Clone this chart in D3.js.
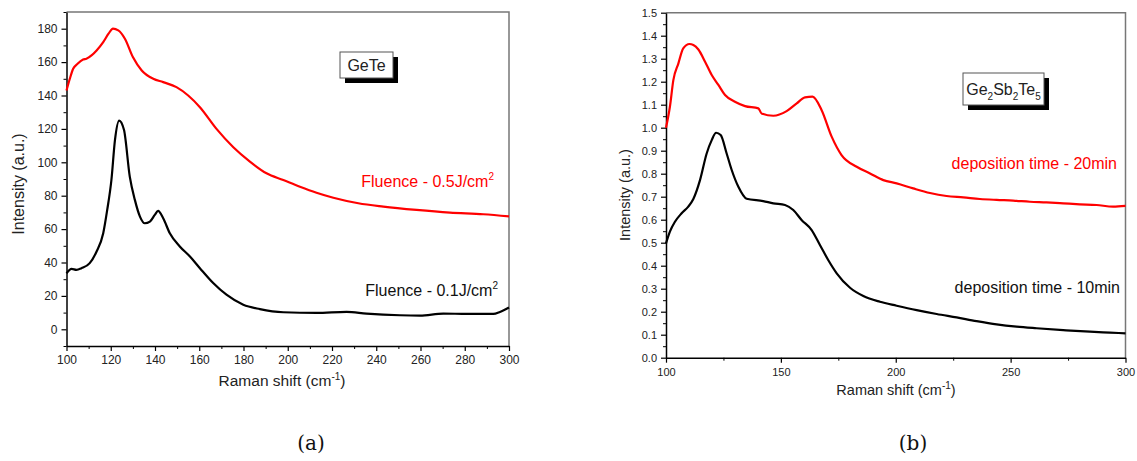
<!DOCTYPE html>
<html>
<head>
<meta charset="utf-8">
<script src="https://cdn.jsdelivr.net/npm/d3@7"></script>
<style>
  body { margin: 0; background: #fff; }
  text { font-family: "Liberation Sans", Arial, sans-serif; fill: #222; }
</style>
</head>
<body>
<script>
// Panel (a): GeTe, Raman spectra [shift cm-1, intensity]
const geteFluence05 = [
  [100, 143], [101.5, 150], [103, 156], [105, 159], [107.5, 161.5], [109, 162], [111.3, 164],
  [113.6, 167], [116.6, 172], [119, 177], [121, 180], [123.4, 179], [126.4, 174], [130, 163],
  [134, 155], [139.2, 150], [143.7, 148], [149.7, 145], [155, 140], [160.3, 133], [167.8, 120],
  [175.4, 109], [182.9, 100.4], [190.4, 93.4], [198, 89.4], [205.5, 85.4], [213, 81.8],
  [220.6, 78.8], [231.9, 75.5], [243.2, 73.5], [258.2, 71.5], [273.3, 69.9], [288.4, 68.9], [300, 67.6]
];
const geteFluence01 = [
  [100, 33.5], [102.3, 36.2], [104.5, 35.6], [106.8, 36.6], [110.5, 39.6], [113.6, 46.6],
  [116.6, 57.5], [118.4, 71.5], [120.3, 89.4], [121.9, 113.3], [123.8, 125], [126, 119.3],
  [128.6, 91.4], [130.9, 77.5], [133.2, 67.5], [135.4, 63.5], [137.7, 64.5], [139.9, 68.5],
  [141.4, 70.9], [143.7, 66.5], [146.7, 57.5], [151.2, 49.6], [155.8, 43.6], [160.3, 36.6],
  [166.3, 27.7], [172.3, 20.7], [179.9, 14.7], [187.4, 12.1], [198, 10.2], [213, 9.8],
  [226.6, 10.4], [235.6, 9.4], [250.7, 8.4], [259.8, 8.2], [270.3, 9.4], [280.9, 9.2],
  [292.9, 9.2], [295.9, 10.4], [300, 13.1]
];

// Panel (b): Ge2Sb2Te5
const gstTime20 = [
  [100, 1.0], [101.7, 1.091], [103.2, 1.207], [105.4, 1.28], [107.5, 1.345], [110.2, 1.364],
  [111.9, 1.36], [114.1, 1.34], [117, 1.287], [119.9, 1.229], [122.8, 1.186], [125.7, 1.142],
  [130, 1.113], [134.4, 1.094], [140.2, 1.084], [141.6, 1.062], [146.7, 1.052], [152.5, 1.072],
  [156.9, 1.106], [160.5, 1.132], [163.8, 1.135], [167.7, 1.077], [172.1, 0.961], [176.4, 0.881],
  [183, 0.83], [188.8, 0.801], [194.6, 0.772], [200.4, 0.758], [207.6, 0.736], [214.9, 0.716],
  [222.1, 0.703], [229.4, 0.697], [236.6, 0.69], [243.9, 0.686], [251.1, 0.683], [258.4, 0.678],
  [265.6, 0.675], [272.9, 0.671], [280.1, 0.667], [287.4, 0.664], [294.6, 0.657], [300, 0.66]
];
const gstTime10 = [
  [100, 0.497], [101.7, 0.548], [103.9, 0.591], [106.8, 0.628], [109.7, 0.657], [111.9, 0.69],
  [114.8, 0.772], [117.7, 0.888], [119.9, 0.946], [121.8, 0.978], [123.8, 0.968], [126.4, 0.888],
  [128.6, 0.816], [131.5, 0.743], [135.1, 0.691], [142.3, 0.681], [146.7, 0.671], [151.8, 0.664],
  [155.4, 0.642], [159, 0.599], [163.4, 0.555], [167, 0.49], [170.6, 0.425], [174.3, 0.367],
  [180.1, 0.304], [185.9, 0.268], [193.1, 0.243], [200.4, 0.226], [209.1, 0.207], [217.8, 0.19],
  [226.5, 0.175], [235.2, 0.159], [243.9, 0.145], [252.6, 0.135], [261.3, 0.128], [272.9, 0.12],
  [284.5, 0.113], [293.2, 0.109], [300, 0.106]
];

// tick values
const ticksAx = d3.range(100, 301, 20);
const ticksAxMinor = d3.range(110, 300, 20);
const ticksAy = d3.range(0, 181, 20);
const ticksAyMinor = d3.range(-10, 191, 20);
const ticksBx = [100, 150, 200, 250, 300];
const ticksBxMinor = [125, 175, 225, 275];
const ticksBy = d3.range(0, 16).map(i => i / 10);
const ticksByMinor = d3.range(0, 15).map(i => i / 10 + 0.05);

const svg = d3.select('body').append('svg')
  .attr('width', 1137)
  .attr('height', 461);

function panel(p) {
  const x = d3.scaleLinear().domain(p.xDomain).range([p.left, p.right]);
  const y = d3.scaleLinear().domain(p.yDomain).range([p.bottom, p.top]);
  const g = svg.append('g');

  // top/right frame
  g.append('path')
    .attr('d', `M${p.left},${p.top}H${p.right}V${p.bottom}`)
    .attr('fill', 'none')
    .attr('stroke', '#777')
    .attr('stroke-width', 1.5);

  // minor ticks
  g.append('g')
    .attr('transform', `translate(0,${p.bottom})`)
    .call(d3.axisBottom(x).tickValues(p.xMinor).tickSize(3).tickFormat(''))
    .call(a => a.select('.domain').remove());
  g.append('g')
    .attr('transform', `translate(${p.left},0)`)
    .call(d3.axisLeft(y).tickValues(p.yMinor).tickSize(3).tickFormat(''))
    .call(a => a.select('.domain').remove());

  // major axes
  const xa = g.append('g')
    .attr('transform', `translate(0,${p.bottom})`)
    .call(d3.axisBottom(x).tickValues(p.xTicks).tickSize(5).tickSizeOuter(0).tickPadding(p.xPad));
  const ya = g.append('g')
    .attr('transform', `translate(${p.left},0)`)
    .call(d3.axisLeft(y).tickValues(p.yTicks).tickSize(5).tickSizeOuter(0).tickPadding(4)
      .tickFormat(p.yFormat));
  [xa, ya].forEach(a => {
    a.select('.domain').attr('stroke-width', 1.5);
    a.selectAll('.tick line').attr('stroke-width', 1.2);
    a.attr('font-family', null).attr('font-size', null);
    a.selectAll('.tick text').style('font-size', p.tickFont + 'px');
  });

  // curves
  const line = d3.line().x(d => x(d[0])).y(d => y(d[1])).curve(d3.curveMonotoneX);
  p.series.forEach(s => {
    g.append('path')
      .datum(s.values)
      .attr('d', line)
      .attr('fill', 'none')
      .attr('stroke', s.color)
      .attr('stroke-width', 2.2)
      .attr('stroke-linejoin', 'round');
  });

  // axis titles
  const xt = g.append('text')
    .attr('x', p.xTitleX)
    .attr('y', p.xTitleY)
    .attr('text-anchor', 'middle')
    .style('font-size', p.titleFont + 'px')
    .text('Raman shift (cm');
  xt.append('tspan').attr('dy', -6).style('font-size', '10px').text('-1');
  xt.append('tspan').attr('dy', 6).text(')');

  g.append('text')
    .attr('transform', `translate(${p.yTitleX},${p.yTitleY}) rotate(-90)`)
    .attr('text-anchor', 'middle')
    .style('font-size', p.yTitleFont + 'px')
    .text('Intensity (a.u.)');

  // series labels
  p.labels.forEach(l => {
    const t = g.append('text')
      .attr('x', l.x)
      .attr('y', l.y)
      .attr('text-anchor', 'end')
      .style('font-size', '16px')
      .style('fill', l.color)
      .text(l.text);
    if (l.sup) {
      t.append('tspan').attr('dy', -7).style('font-size', '10px').style('fill', l.color).text(l.sup);
    }
  });

  // material box with shadow
  const b = p.box;
  g.append('rect').attr('x', b.x + 5).attr('y', b.y + 5).attr('width', b.w).attr('height', b.h).attr('fill', '#000');
  g.append('rect').attr('x', b.x).attr('y', b.y).attr('width', b.w).attr('height', b.h)
    .attr('fill', '#fff').attr('stroke', '#555').attr('stroke-width', 1);
  const bt = g.append('text')
    .attr('x', b.x + b.w / 2)
    .attr('y', b.y + b.h / 2 + 6)
    .attr('text-anchor', 'middle')
    .style('font-size', '16px');
  b.parts.forEach(part => {
    bt.append('tspan')
      .attr('dy', part.dy || 0)
      .style('font-size', part.sub ? '10px' : null)
      .text(part.t);
  });

  // panel letter
  svg.append('text')
    .attr('x', p.letterX)
    .attr('y', 450)
    .attr('text-anchor', 'middle')
    .style('font-family', '"DejaVu Serif", "Liberation Serif", serif')
    .style('font-size', '20px')
    .style('fill', '#111')
    .text(p.letter);
}

panel({
  left: 66.5, right: 509, top: 12, bottom: 346,
  xDomain: [100, 300], yDomain: [-10, 190],
  xTicks: ticksAx, xMinor: ticksAxMinor, yTicks: ticksAy, yMinor: ticksAyMinor,
  yFormat: d3.format('d'),
  tickFont: 12, titleFont: 15.5, yTitleFont: 16, xPad: 4,
  xTitleX: 282, xTitleY: 386,
  yTitleX: 24, yTitleY: 184,
  series: [
    { values: geteFluence05, color: '#ff0000' },
    { values: geteFluence01, color: '#000' }
  ],
  labels: [
    { text: 'Fluence - 0.5J/cm', sup: '2', x: 494, y: 187, color: '#ff0000' },
    { text: 'Fluence - 0.1J/cm', sup: '2', x: 498, y: 296, color: '#111' }
  ],
  box: { x: 340, y: 52, w: 53, h: 26, parts: [{ t: 'GeTe' }] },
  letter: '(a)', letterX: 311
});

panel({
  left: 666, right: 1125.5, top: 12.7, bottom: 357.7,
  xDomain: [100, 300], yDomain: [0, 1.5],
  xTicks: ticksBx, xMinor: ticksBxMinor, yTicks: ticksBy, yMinor: ticksByMinor,
  yFormat: d3.format('.1f'),
  tickFont: 11, titleFont: 14.5, yTitleFont: 14.5, xPad: 6,
  xTitleX: 896, xTitleY: 395,
  yTitleX: 630, yTitleY: 195,
  series: [
    { values: gstTime20, color: '#ff0000' },
    { values: gstTime10, color: '#000' }
  ],
  labels: [
    { text: 'deposition time - 20min', x: 1117, y: 169, color: '#ff0000' },
    { text: 'deposition time - 10min', x: 1120, y: 293, color: '#111' }
  ],
  box: {
    x: 963, y: 73, w: 81, h: 32,
    parts: [
      { t: 'Ge' }, { t: '2', sub: true, dy: 5 }, { t: 'Sb', dy: -5 }, { t: '2', sub: true, dy: 5 },
      { t: 'Te', dy: -5 }, { t: '5', sub: true, dy: 5 }
    ]
  },
  letter: '(b)', letterX: 913
});
</script>
</body>
</html>
